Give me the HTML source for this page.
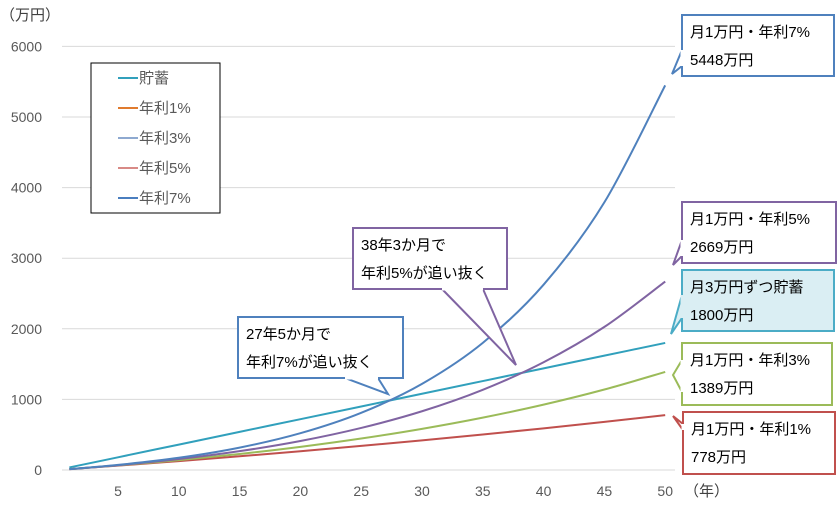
<!DOCTYPE html>
<html><head><meta charset="utf-8"><style>
body{margin:0;background:#fff}
svg{font-family:"Liberation Sans","Noto Sans CJK JP",sans-serif}
</style></head><body>
<svg width="840" height="504" viewBox="0 0 840 504">
<g id="grid"></g><g id="axes"></g><g id="lines"></g><g id="callouts"></g><g id="legend"></g>
</svg>
<script>
const years=[1,5,10,15,20,25,30,35,40,45,50];
const savings=[36,180,360,540,720,900,1080,1260,1440,1620,1800];
const rate1=[12,62,126,194,266,341,420,503,590,682,778];
const rate3=[12,65,140,227,328,446,583,742,926,1140,1389];
const rate5=[12,68,155,267,411,596,832,1136,1526,2027,2669];
const rate7=[12,72,173,317,521,810,1220,1801,2625,3792,5448];
const yTicks=[0,1000,2000,3000,4000,5000,6000];
const xTicks=[5,10,15,20,25,30,35,40,45,50];
const NS='http://www.w3.org/2000/svg';
const X=y=>57.2+12.16*y, Y=v=>470-v*0.0706;
function mk(t,a,p){const e=document.createElementNS(NS,t);for(const k in a)e.setAttribute(k,a[k]);p.appendChild(e);return e;}
const g=document.getElementById('grid'),ax=document.getElementById('axes');
yTicks.forEach(v=>{
 const l=mk('line',{x1:62,x2:675,y1:Y(v),y2:Y(v),stroke:'#d9d9d9','stroke-width':1},g);
 
 
 const t=mk('text',{x:42,y:Y(v)+5,'text-anchor':'end','font-size':14,fill:'#595959'},ax);t.textContent=v;
 
 
});
xTicks.forEach(v=>{
 const t=mk('text',{x:X(v),y:496,'text-anchor':'middle','font-size':14,fill:'#595959'},ax);t.textContent=v;
 
 
});
let t=mk('text',{x:0,y:20,'font-size':15,fill:'#404040'},ax);t.textContent='（万円）';


t=mk('text',{x:684,y:496,'font-size':15,fill:'#404040'},ax);t.textContent='（年）';


const series=[['savings',savings,'#31a0bc'],['rate1',rate1,'#c0504d'],['rate3',rate3,'#9bbb59'],['rate5',rate5,'#8064a2'],['rate7',rate7,'#4f81bd']];
const lg=document.getElementById('lines');
series.forEach(([n,d,c])=>{
 const pts=d.map((v,i)=>[X(years[i]),Y(v)]);
 let p='M'+pts[0].join(',');
 for(let i=1;i<pts.length;i++){const p0=pts[Math.max(i-2,0)],p1=pts[i-1],p2=pts[i],p3=pts[Math.min(i+1,pts.length-1)];
  p+=` C${p1[0]+(p2[0]-p0[0])/6},${p1[1]+(p2[1]-p0[1])/6} ${p2[0]-(p3[0]-p1[0])/6},${p2[1]-(p3[1]-p1[1])/6} ${p2[0]},${p2[1]}`;}
 const e=mk('path',{d:p,fill:'none',stroke:c,'stroke-width':2},lg);
 
 
});
const cg=document.getElementById('callouts');
function callout(name,x,y,w,h,color,fill,ptr,l1,l2){
 const [b1x,b1y,tx,ty,b2x,b2y]=ptr;
 const gr=mk('g',{},cg);
 
 
 mk('rect',{x,y,width:w,height:h,fill,stroke:color,'stroke-width':2},gr);
 mk('polygon',{points:`${b1x},${b1y} ${tx},${ty} ${b2x},${b2y}`,fill,stroke:color,'stroke-width':2,'stroke-linejoin':'miter'},gr);
 mk('line',{x1:b1x,y1:b1y,x2:b2x,y2:b2y,stroke:fill,'stroke-width':3},gr);
 let a=mk('text',{x:x+8,y:y+22,'font-size':15,fill:'#000'},gr);a.textContent=l1;
 a=mk('text',{x:x+8,y:y+50,'font-size':15,fill:'#000'},gr);a.textContent=l2;
}
callout('callout-rate7',682,15,152,61,'#4f81bd','#fff',[682,50,672,74,682,66],'月1万円・年利7%','5448万円');
callout('callout-rate5',682,202,154,61,'#8064a2','#fff',[682,240,673,265,682,256],'月1万円・年利5%','2669万円');
callout('callout-savings',682,270,152,61,'#4bacc6','#daeef3',[682,295,671,334,682,318],'月3万円ずつ貯蓄','1800万円');
callout('callout-rate3',682,343,150,62,'#9bbb59','#fff',[682,360,673,375,682,392],'月1万円・年利3%','1389万円');
callout('callout-rate1',683,412,152,62,'#c0504d','#fff',[683,430,673,416,683,424],'月1万円・年利1%','778万円');
callout('callout-cross7',238,317,165,61,'#4f81bd','#fff',[345,378,388,394,378,378],'27年5か月で','年利7%が追い抜く');
callout('callout-cross5',353,228,154,61,'#8064a2','#fff',[442,289,516,365,483,289],'38年3か月で','年利5%が追い抜く');
const L=document.getElementById('legend');
const lb=mk('rect',{x:91,y:63,width:129,height:150,fill:'#fff',stroke:'#000','stroke-width':1},L);


const lgItems=[['貯蓄','#31a0bc'],['年利1%','#e07b2e'],['年利3%','#8ea9d0'],['年利5%','#d88a86'],['年利7%','#4a7ebf']];
lgItems.forEach(([n,c],i)=>{
 const yy=78+i*30;
 mk('line',{x1:118,x2:138,y1:yy,y2:yy,stroke:c,'stroke-width':2},L);
 const tt=mk('text',{x:139,y:yy+5,'font-size':15,fill:'#595959'},L);tt.textContent=n;
 
 
});
</script>
</body></html>
